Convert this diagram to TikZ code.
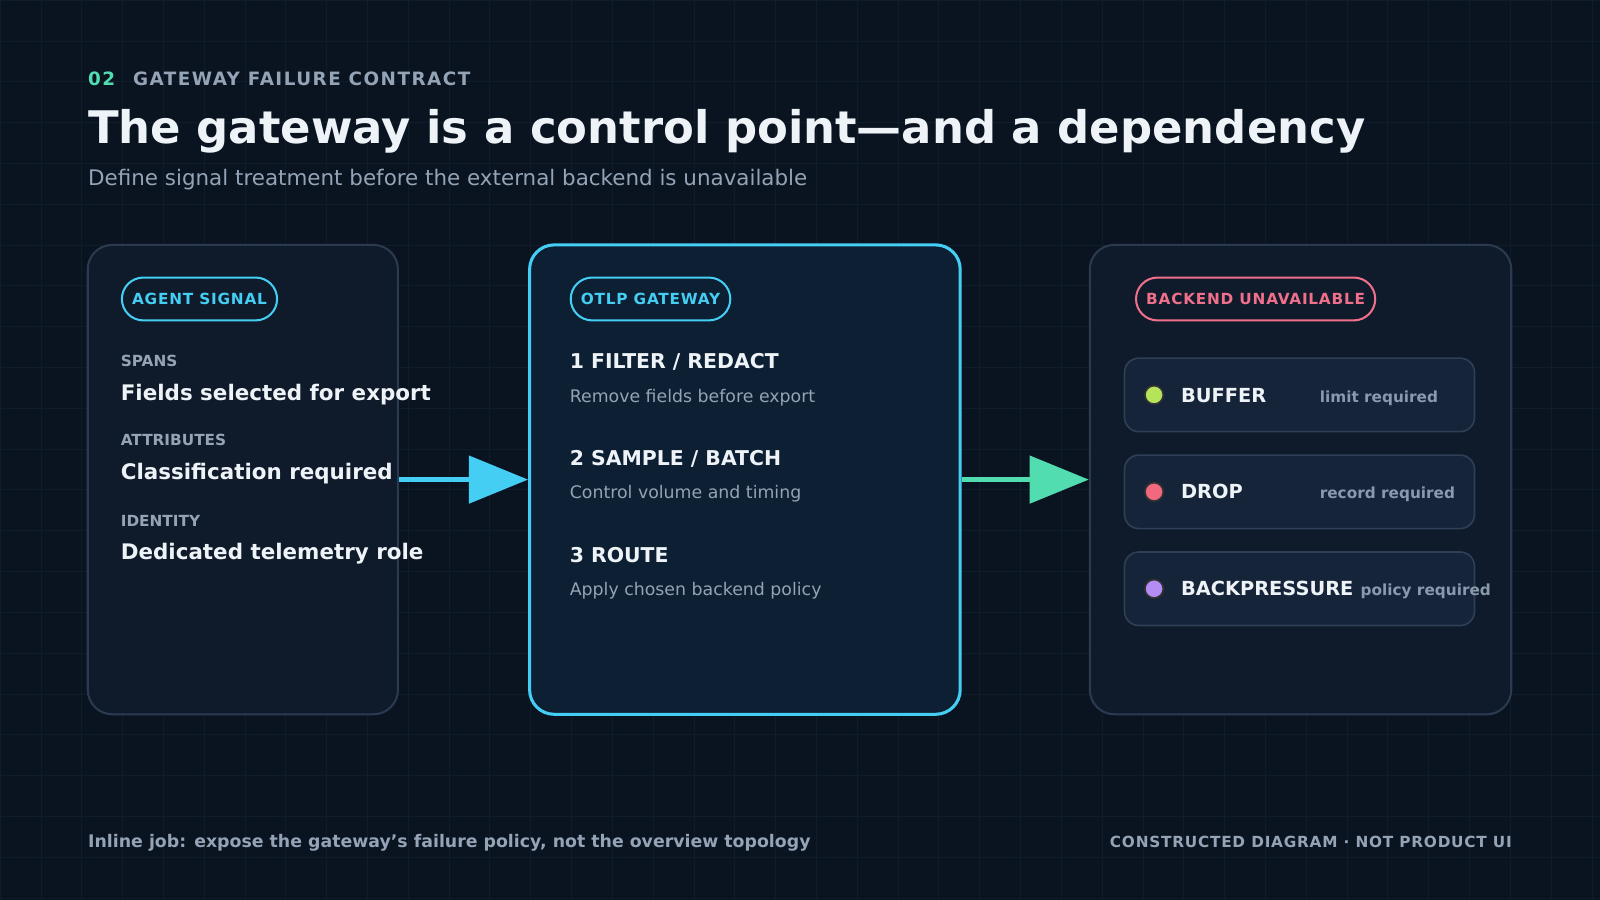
\documentclass[tikz,border=0pt]{standalone}
\usepackage{fontspec}
\setmainfont{DejaVu Sans}
\newfontfamily\spc{DejaVu Sans}[LetterSpace=8]
\newfontfamily\spcs{DejaVu Sans}[LetterSpace=5]
\usetikzlibrary{arrows.meta}
\definecolor{bg}{HTML}{0A1420}
\definecolor{gridc}{HTML}{101C2A}
\definecolor{card}{HTML}{0F1B2B}
\definecolor{cardline}{HTML}{2A3A50}
\definecolor{midfill}{HTML}{0D1F33}
\definecolor{cyanc}{HTML}{44CEF4}
\definecolor{greenc}{HTML}{52DDB0}
\definecolor{pinkc}{HTML}{F06F8A}
\definecolor{titlec}{HTML}{EEF3F8}
\definecolor{mutedc}{HTML}{94A3B5}
\definecolor{rowfill}{HTML}{16243A}
\definecolor{rowline}{HTML}{2E3F56}
\definecolor{lime}{HTML}{B5E35A}
\definecolor{redd}{HTML}{F2687E}
\definecolor{violet}{HTML}{B48CF5}
\tikzset{
  txt/.style={anchor=base west, inner sep=0pt},
  card/.style={draw=cardline, line width=1pt, fill=card, rounded corners=12pt, minimum width=#1, inner sep=0pt},
  pill/.style={draw=#1, line width=1pt, text=#1, rounded corners=10.5pt, minimum height=21pt, inner xsep=5pt, font=\spcs\bfseries\fontsize{7.5}{9}\selectfont},
  lbl/.style={txt, text=mutedc, font=\bfseries\fontsize{7.5}{9}\selectfont},
  big/.style={txt, text=titlec, font=\bfseries\fontsize{10.5}{12}\selectfont},
  stepl/.style={txt, text=titlec, font=\bfseries\fontsize{10}{12}\selectfont},
  desc/.style={txt, text=mutedc, font=\fontsize{8.5}{10}\selectfont},
  row/.style={draw=rowline, line width=0.8pt, fill=rowfill, rounded corners=7pt, minimum width=171.5pt, minimum height=36pt, inner sep=0pt},
  dot/.style={circle, draw=black!80, line width=0.8pt, fill=#1, minimum size=9pt, inner sep=0pt},
  rowl/.style={txt, text=titlec, font=\bfseries\fontsize{9.5}{11}\selectfont},
  rows/.style={txt, text=mutedc!110, font=\bfseries\fontsize{7.5}{9}\selectfont},
}
\begin{document}
\begin{tikzpicture}[x=0.5pt,y=-0.5pt]
\fill[bg] (0,0) rectangle (1568,882);
\useasboundingbox (0,0) rectangle (1568,882);
\foreach \i in {0,40,...,1560} \draw[gridc, line width=0.3pt] (\i,0) -- (\i,882);
\foreach \j in {0,40,...,880} \draw[gridc, line width=0.3pt] (0,\j) -- (1568,\j);

\node[txt, text=greenc, font=\spc\bfseries\fontsize{9}{11}\selectfont] (num) at (86,84) {02};
\node[txt, text=mutedc, font=\spc\bfseries\fontsize{9}{11}\selectfont] (kick) at (130,84) {GATEWAY FAILURE CONTRACT};
\node[txt, text=titlec, font=\bfseries\fontsize{22}{26}\selectfont] (title) at (86,141) {The gateway is a control point—and a dependency};
\node[txt, text=mutedc, font=\fontsize{10.5}{13}\selectfont] (sub) at (86,182) {Define signal treatment before the external backend is unavailable};

\node[card=152pt, minimum height=230pt] (agent) at (238,470) {};
\node[card=211pt, minimum height=230pt, draw=cyanc, line width=1.5pt, fill=midfill] (gw) at (730,470) {};
\node[card=206.5pt, minimum height=230pt] (be) at (1274.5,470) {};

\node[pill=cyanc] (p1) at (195.5,293) {AGENT SIGNAL};
\node[pill=cyanc] (p2) at (637.5,293) {OTLP GATEWAY};
\node[pill=pinkc] (p3) at (1230.5,293) {BACKEND UNAVAILABLE};

\node[lbl] (l1) at (118,359) {SPANS};
\node[big] (b1) at (118,392) {Fields selected for export};
\node[lbl] (l2) at (118,437) {ATTRIBUTES};
\node[big] (b2) at (118,470) {Classification required};
\node[lbl] (l3) at (118,516) {IDENTITY};
\node[big] (b3) at (118,548) {Dedicated telemetry role};

\node[stepl] (s1) at (558,361) {1 FILTER / REDACT};
\node[desc] (d1) at (558,394) {Remove fields before export};
\node[stepl] (s2) at (558,456) {2 SAMPLE / BATCH};
\node[desc] (d2) at (558,489) {Control volume and timing};
\node[stepl] (s3) at (558,551) {3 ROUTE};
\node[desc] (d3) at (558,584) {Apply chosen backend policy};

\node[row] (r1) at (1273.5,387) {};
\node[row] (r2) at (1273.5,482) {};
\node[row] (r3) at (1273.5,577) {};
\node[dot=lime] (c1) at (1131,387) {};
\node[dot=redd] (c2) at (1131,482) {};
\node[dot=violet] (c3) at (1131,577) {};
\node[rowl] (t1) at (1157,394) {BUFFER};
\node[rows] (u1) at (1293,394) {limit required};
\node[rowl] (t2) at (1157,489) {DROP};
\node[rows] (u2) at (1293,489) {record required};
\node[rowl] (t3) at (1157,584) {BACKPRESSURE};
\node[rows] (u3) at (1333,584) {policy required};

\draw[cyanc, line width=2.5pt, -{Triangle[length=29pt,width=23pt]}] (agent.east) -- (gw.west);
\draw[greenc, line width=2.5pt, -{Triangle[length=29pt,width=23pt]}] (gw.east) -- (be.west);

\node[txt, text=mutedc, font=\bfseries\fontsize{8.5}{10}\selectfont] (f1) at (86,831) {Inline job: expose the gateway's failure policy, not the overview topology};
\node[anchor=base east, inner sep=0pt, text=mutedc, font=\spcs\bfseries\fontsize{7.5}{9}\selectfont] (f2) at (1482,831) {CONSTRUCTED DIAGRAM · NOT PRODUCT UI};
\end{tikzpicture}
\end{document}
